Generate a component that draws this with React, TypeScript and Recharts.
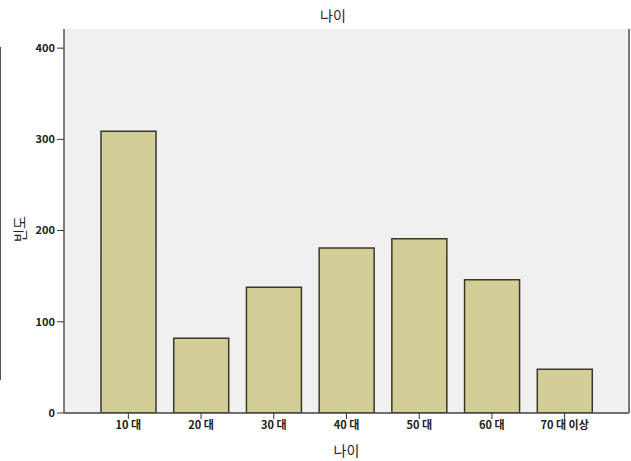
import { BarChart, Bar, XAxis, YAxis, CartesianGrid } from 'recharts'

const AGE_GROUPS = ['10 대', '20 대', '30 대', '40 대', '50 대', '60 대', '70 대 이상']
const COUNTS = [309, 82, 138, 181, 191, 146, 48]
const Y_TICKS = [0, 100, 200, 300, 400]

const data = AGE_GROUPS.map((name, i) => ({ name, count: COUNTS[i] }))

const FONT = '"Noto Sans CJK KR", "Noto Sans", sans-serif'
const TICK = { fontSize: 11, fill: '#222', fontWeight: 700, fontFamily: FONT }

export default function App() {
    return (
        <div style={{ position: 'absolute', left: 0, top: 0, width: 631, height: 461, background: '#fff', fontFamily: FONT }}>
            {/* title */}
            <div style={{ position: 'absolute', left: 0, width: 666, top: 5, textAlign: 'center', fontSize: 14, color: '#222' }}>
                나이
            </div>
            {/* stray frame edge at the left */}
            <div style={{ position: 'absolute', left: 0, top: 47, width: 1, height: 333, background: '#555' }} />

            <BarChart
                width={631}
                height={461}
                data={data}
                margin={{ top: 29, right: 1, bottom: 0, left: 0 }}
                barSize={55}
            >
                <CartesianGrid fill="#F0F0F0" stroke="none" />
                <XAxis
                    dataKey="name"
                    tick={TICK}
                    tickLine={{ stroke: '#333' }}
                    tickSize={6}
                    axisLine={{ stroke: '#444', strokeWidth: 1.5 }}
                    padding={{ left: 28, right: 28 }}
                    interval={0}
                    height={48}
                    label={{ value: '나이', position: 'insideBottom', offset: 5, fontSize: 14, fill: '#222', fontFamily: FONT }}
                />
                <XAxis
                    xAxisId="top"
                    dataKey="name"
                    orientation="top"
                    tick={false}
                    tickLine={false}
                    height={0}
                    axisLine={{ stroke: '#777', strokeWidth: 2 }}
                />
                <YAxis
                    domain={[0, 421]}
                    ticks={Y_TICKS}
                    tick={TICK}
                    tickLine={{ stroke: '#333' }}
                    tickSize={7}
                    axisLine={{ stroke: '#555', strokeWidth: 1.5 }}
                    width={64}
                    allowDataOverflow
                    label={{ value: '빈도', angle: -90, position: 'insideLeft', offset: 12, dy: 21, dx: 8, fontSize: 14, fill: '#222', fontFamily: FONT }}
                />
                <YAxis
                    yAxisId="right"
                    orientation="right"
                    domain={[0, 421]}
                    tick={false}
                    tickLine={false}
                    width={1}
                    axisLine={{ stroke: '#777', strokeWidth: 2 }}
                />
                <Bar
                    dataKey="count"
                    fill="#D3CE98"
                    stroke="#3A3829"
                    strokeWidth={1.5}
                    isAnimationActive={false}
                />
            </BarChart>
        </div>
    )
}
